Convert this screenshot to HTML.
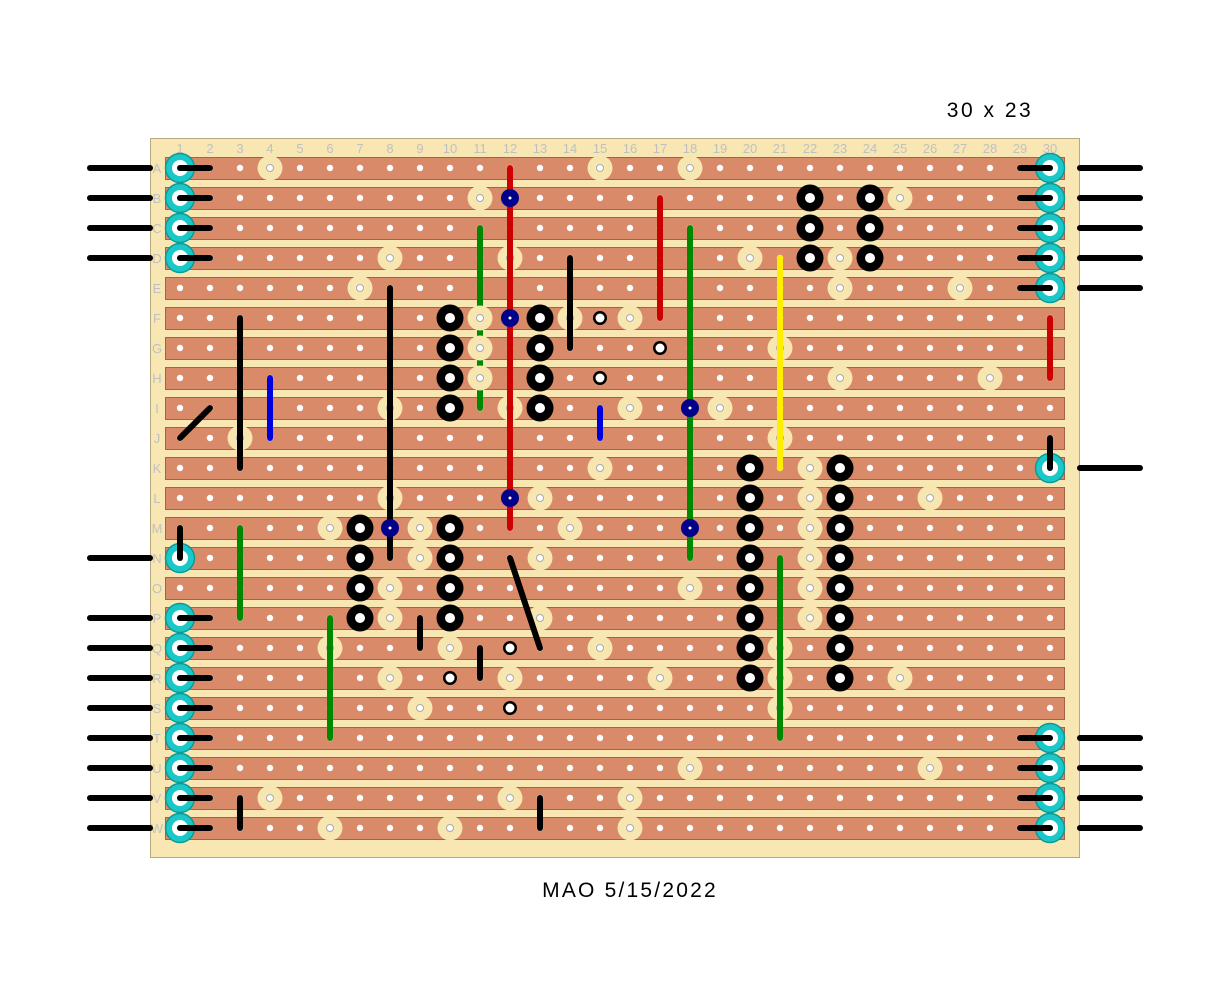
<!DOCTYPE html>
<html><head><meta charset="utf-8"><style>
html,body{margin:0;padding:0;background:#fff;width:1232px;height:984px;overflow:hidden}
svg{display:block}
text{font-family:"Liberation Sans",sans-serif}
</style></head><body>
<svg width="1232" height="984" viewBox="0 0 1232 984" xmlns="http://www.w3.org/2000/svg">
<defs>
<pattern id="h" x="165" y="153" width="30" height="30" patternUnits="userSpaceOnUse"><circle cx="15" cy="15" r="3.2" fill="#fff"/></pattern>
<g id="tp"><circle r="12.5" fill="#f8e6b0"/><circle r="3.5" fill="#fff" stroke="#aaa" stroke-width="1"/></g>
<g id="bp"><circle r="13.5" fill="#000"/><circle r="5" fill="#fff"/></g>
<g id="wp"><circle r="7" fill="#000"/><circle r="4.5" fill="#fff"/></g>
<g id="vp"><circle r="9" fill="#00008b"/><circle r="1.5" fill="#fff"/></g>
<g id="cp"><circle r="14.5" fill="#1cc7c7" stroke="#0a9a9a" stroke-width="1.5"/><circle r="8" fill="#fff"/></g>
</defs>
<rect x="150.5" y="138.5" width="929" height="719" fill="#f8e7b3" stroke="#b8a880"/>
<g fill="#d98a68" stroke="#a8604a" stroke-width="1">
<rect x="165.5" y="157.5" width="899" height="22"/><rect x="165.5" y="187.5" width="899" height="22"/><rect x="165.5" y="217.5" width="899" height="22"/><rect x="165.5" y="247.5" width="899" height="22"/><rect x="165.5" y="277.5" width="899" height="22"/><rect x="165.5" y="307.5" width="899" height="22"/><rect x="165.5" y="337.5" width="899" height="22"/><rect x="165.5" y="367.5" width="899" height="22"/><rect x="165.5" y="397.5" width="899" height="22"/><rect x="165.5" y="427.5" width="899" height="22"/><rect x="165.5" y="457.5" width="899" height="22"/><rect x="165.5" y="487.5" width="899" height="22"/><rect x="165.5" y="517.5" width="899" height="22"/><rect x="165.5" y="547.5" width="899" height="22"/><rect x="165.5" y="577.5" width="899" height="22"/><rect x="165.5" y="607.5" width="899" height="22"/><rect x="165.5" y="637.5" width="899" height="22"/><rect x="165.5" y="667.5" width="899" height="22"/><rect x="165.5" y="697.5" width="899" height="22"/><rect x="165.5" y="727.5" width="899" height="22"/><rect x="165.5" y="757.5" width="899" height="22"/><rect x="165.5" y="787.5" width="899" height="22"/><rect x="165.5" y="817.5" width="899" height="22"/>
</g>
<rect x="165" y="153" width="900" height="690" fill="url(#h)"/>
<g fill="#c0c0c0" font-size="13" text-anchor="middle">
<text x="180" y="153">1</text><text x="210" y="153">2</text><text x="240" y="153">3</text><text x="270" y="153">4</text><text x="300" y="153">5</text><text x="330" y="153">6</text><text x="360" y="153">7</text><text x="390" y="153">8</text><text x="420" y="153">9</text><text x="450" y="153">10</text><text x="480" y="153">11</text><text x="510" y="153">12</text><text x="540" y="153">13</text><text x="570" y="153">14</text><text x="600" y="153">15</text><text x="630" y="153">16</text><text x="660" y="153">17</text><text x="690" y="153">18</text><text x="720" y="153">19</text><text x="750" y="153">20</text><text x="780" y="153">21</text><text x="810" y="153">22</text><text x="840" y="153">23</text><text x="870" y="153">24</text><text x="900" y="153">25</text><text x="930" y="153">26</text><text x="960" y="153">27</text><text x="990" y="153">28</text><text x="1020" y="153">29</text><text x="1050" y="153">30</text>
</g>
<g fill="#c0c0c0" font-size="13" text-anchor="middle">
<text x="157" y="173">A</text><text x="157" y="203">B</text><text x="157" y="233">C</text><text x="157" y="263">D</text><text x="157" y="293">E</text><text x="157" y="323">F</text><text x="157" y="353">G</text><text x="157" y="383">H</text><text x="157" y="413">I</text><text x="157" y="443">J</text><text x="157" y="473">K</text><text x="157" y="503">L</text><text x="157" y="533">M</text><text x="157" y="563">N</text><text x="157" y="593">O</text><text x="157" y="623">P</text><text x="157" y="653">Q</text><text x="157" y="683">R</text><text x="157" y="713">S</text><text x="157" y="743">T</text><text x="157" y="773">U</text><text x="157" y="803">V</text><text x="157" y="833">W</text>
</g>
<use href="#tp" x="270" y="168"/><use href="#tp" x="600" y="168"/><use href="#tp" x="690" y="168"/>
<use href="#tp" x="480" y="198"/><use href="#tp" x="900" y="198"/>
<use href="#tp" x="390" y="258"/><use href="#tp" x="510" y="258"/><use href="#tp" x="750" y="258"/><use href="#tp" x="840" y="258"/>
<use href="#tp" x="360" y="288"/><use href="#tp" x="840" y="288"/><use href="#tp" x="960" y="288"/>
<use href="#tp" x="570" y="318"/><use href="#tp" x="630" y="318"/>
<use href="#tp" x="780" y="348"/>
<use href="#tp" x="840" y="378"/><use href="#tp" x="990" y="378"/>
<use href="#tp" x="390" y="408"/><use href="#tp" x="510" y="408"/><use href="#tp" x="630" y="408"/><use href="#tp" x="720" y="408"/>
<use href="#tp" x="240" y="438"/><use href="#tp" x="780" y="438"/>
<use href="#tp" x="600" y="468"/><use href="#tp" x="810" y="468"/>
<use href="#tp" x="390" y="498"/><use href="#tp" x="540" y="498"/><use href="#tp" x="810" y="498"/><use href="#tp" x="930" y="498"/>
<use href="#tp" x="330" y="528"/><use href="#tp" x="420" y="528"/><use href="#tp" x="570" y="528"/><use href="#tp" x="810" y="528"/>
<use href="#tp" x="420" y="558"/><use href="#tp" x="540" y="558"/><use href="#tp" x="810" y="558"/>
<use href="#tp" x="390" y="588"/><use href="#tp" x="690" y="588"/><use href="#tp" x="810" y="588"/>
<use href="#tp" x="390" y="618"/><use href="#tp" x="540" y="618"/><use href="#tp" x="810" y="618"/>
<use href="#tp" x="330" y="648"/><use href="#tp" x="450" y="648"/><use href="#tp" x="600" y="648"/><use href="#tp" x="780" y="648"/>
<use href="#tp" x="390" y="678"/><use href="#tp" x="510" y="678"/><use href="#tp" x="660" y="678"/><use href="#tp" x="780" y="678"/><use href="#tp" x="900" y="678"/>
<use href="#tp" x="420" y="708"/><use href="#tp" x="780" y="708"/>
<use href="#tp" x="690" y="768"/><use href="#tp" x="930" y="768"/>
<use href="#tp" x="270" y="798"/><use href="#tp" x="510" y="798"/><use href="#tp" x="630" y="798"/>
<use href="#tp" x="330" y="828"/><use href="#tp" x="450" y="828"/><use href="#tp" x="630" y="828"/>
<use href="#cp" x="180" y="168"/><use href="#cp" x="180" y="198"/><use href="#cp" x="180" y="228"/><use href="#cp" x="180" y="258"/><use href="#cp" x="180" y="558"/>
<use href="#cp" x="180" y="618"/><use href="#cp" x="180" y="648"/><use href="#cp" x="180" y="678"/><use href="#cp" x="180" y="708"/><use href="#cp" x="180" y="738"/><use href="#cp" x="180" y="768"/><use href="#cp" x="180" y="798"/><use href="#cp" x="180" y="828"/>
<use href="#cp" x="1050" y="168"/><use href="#cp" x="1050" y="198"/><use href="#cp" x="1050" y="228"/><use href="#cp" x="1050" y="258"/><use href="#cp" x="1050" y="288"/><use href="#cp" x="1050" y="468"/>
<use href="#cp" x="1050" y="738"/><use href="#cp" x="1050" y="768"/><use href="#cp" x="1050" y="798"/><use href="#cp" x="1050" y="828"/>
<g stroke-width="6" stroke-linecap="round" fill="none">
<line x1="510" y1="168" x2="510" y2="528" stroke="#cc0000"/>
<line x1="660" y1="198" x2="660" y2="318" stroke="#cc0000"/>
<line x1="1050" y1="318" x2="1050" y2="378" stroke="#cc0000"/>
<line x1="480" y1="228" x2="480" y2="408" stroke="#008800"/>
<line x1="690" y1="228" x2="690" y2="558" stroke="#008800"/>
<line x1="240" y1="528" x2="240" y2="618" stroke="#008800"/>
<line x1="330" y1="618" x2="330" y2="738" stroke="#008800"/>
<line x1="780" y1="558" x2="780" y2="738" stroke="#008800"/>
<line x1="780" y1="258" x2="780" y2="468" stroke="#ffee00"/>
<line x1="270" y1="378" x2="270" y2="438" stroke="#0000dd"/>
<line x1="600" y1="408" x2="600" y2="438" stroke="#0000dd"/>
<g stroke="#000">
<line x1="240" y1="318" x2="240" y2="468"/>
<line x1="180" y1="438" x2="210" y2="408"/>
<line x1="390" y1="288" x2="390" y2="558"/>
<line x1="570" y1="258" x2="570" y2="348"/>
<line x1="510" y1="558" x2="540" y2="648"/>
<line x1="420" y1="618" x2="420" y2="648"/>
<line x1="480" y1="648" x2="480" y2="678"/>
<line x1="240" y1="798" x2="240" y2="828"/>
<line x1="540" y1="798" x2="540" y2="828"/>
<line x1="180" y1="528" x2="180" y2="558"/>
<line x1="1050" y1="438" x2="1050" y2="468"/>
<line x1="180" y1="168" x2="210" y2="168"/><line x1="180" y1="198" x2="210" y2="198"/><line x1="180" y1="228" x2="210" y2="228"/><line x1="180" y1="258" x2="210" y2="258"/>
<line x1="180" y1="618" x2="210" y2="618"/><line x1="180" y1="648" x2="210" y2="648"/><line x1="180" y1="678" x2="210" y2="678"/><line x1="180" y1="708" x2="210" y2="708"/><line x1="180" y1="738" x2="210" y2="738"/><line x1="180" y1="768" x2="210" y2="768"/><line x1="180" y1="798" x2="210" y2="798"/><line x1="180" y1="828" x2="210" y2="828"/>
<line x1="1020" y1="168" x2="1050" y2="168"/><line x1="1020" y1="198" x2="1050" y2="198"/><line x1="1020" y1="228" x2="1050" y2="228"/><line x1="1020" y1="258" x2="1050" y2="258"/><line x1="1020" y1="288" x2="1050" y2="288"/>
<line x1="1020" y1="738" x2="1050" y2="738"/><line x1="1020" y1="768" x2="1050" y2="768"/><line x1="1020" y1="798" x2="1050" y2="798"/><line x1="1020" y1="828" x2="1050" y2="828"/>
<line x1="90" y1="168" x2="150" y2="168"/><line x1="90" y1="198" x2="150" y2="198"/><line x1="90" y1="228" x2="150" y2="228"/><line x1="90" y1="258" x2="150" y2="258"/><line x1="90" y1="558" x2="150" y2="558"/>
<line x1="90" y1="618" x2="150" y2="618"/><line x1="90" y1="648" x2="150" y2="648"/><line x1="90" y1="678" x2="150" y2="678"/><line x1="90" y1="708" x2="150" y2="708"/><line x1="90" y1="738" x2="150" y2="738"/><line x1="90" y1="768" x2="150" y2="768"/><line x1="90" y1="798" x2="150" y2="798"/><line x1="90" y1="828" x2="150" y2="828"/>
<line x1="1080" y1="168" x2="1140" y2="168"/><line x1="1080" y1="198" x2="1140" y2="198"/><line x1="1080" y1="228" x2="1140" y2="228"/><line x1="1080" y1="258" x2="1140" y2="258"/><line x1="1080" y1="288" x2="1140" y2="288"/><line x1="1080" y1="468" x2="1140" y2="468"/>
<line x1="1080" y1="738" x2="1140" y2="738"/><line x1="1080" y1="768" x2="1140" y2="768"/><line x1="1080" y1="798" x2="1140" y2="798"/><line x1="1080" y1="828" x2="1140" y2="828"/>
</g>
</g>
<use href="#tp" x="480" y="318"/><use href="#tp" x="480" y="348"/><use href="#tp" x="480" y="378"/>
<use href="#bp" x="810" y="198"/><use href="#bp" x="810" y="228"/><use href="#bp" x="810" y="258"/>
<use href="#bp" x="870" y="198"/><use href="#bp" x="870" y="228"/><use href="#bp" x="870" y="258"/>
<use href="#bp" x="450" y="318"/><use href="#bp" x="450" y="348"/><use href="#bp" x="450" y="378"/><use href="#bp" x="450" y="408"/>
<use href="#bp" x="540" y="318"/><use href="#bp" x="540" y="348"/><use href="#bp" x="540" y="378"/><use href="#bp" x="540" y="408"/>
<use href="#bp" x="360" y="528"/><use href="#bp" x="360" y="558"/><use href="#bp" x="360" y="588"/><use href="#bp" x="360" y="618"/>
<use href="#bp" x="450" y="528"/><use href="#bp" x="450" y="558"/><use href="#bp" x="450" y="588"/><use href="#bp" x="450" y="618"/>
<use href="#bp" x="750" y="468"/><use href="#bp" x="750" y="498"/><use href="#bp" x="750" y="528"/><use href="#bp" x="750" y="558"/><use href="#bp" x="750" y="588"/><use href="#bp" x="750" y="618"/><use href="#bp" x="750" y="648"/><use href="#bp" x="750" y="678"/>
<use href="#bp" x="840" y="468"/><use href="#bp" x="840" y="498"/><use href="#bp" x="840" y="528"/><use href="#bp" x="840" y="558"/><use href="#bp" x="840" y="588"/><use href="#bp" x="840" y="618"/><use href="#bp" x="840" y="648"/><use href="#bp" x="840" y="678"/>
<use href="#wp" x="600" y="318"/><use href="#wp" x="660" y="348"/><use href="#wp" x="600" y="378"/>
<use href="#wp" x="510" y="648"/><use href="#wp" x="450" y="678"/><use href="#wp" x="510" y="708"/>
<use href="#vp" x="510" y="198"/><use href="#vp" x="510" y="318"/><use href="#vp" x="510" y="498"/>
<use href="#vp" x="690" y="408"/><use href="#vp" x="690" y="528"/><use href="#vp" x="390" y="528"/>
<text x="990" y="117" font-size="21" text-anchor="middle" fill="#000" letter-spacing="2.5">30 x 23</text>
<text x="630" y="897" font-size="21" text-anchor="middle" fill="#000" letter-spacing="2.2">MAO 5/15/2022</text>
</svg>
</body></html>
